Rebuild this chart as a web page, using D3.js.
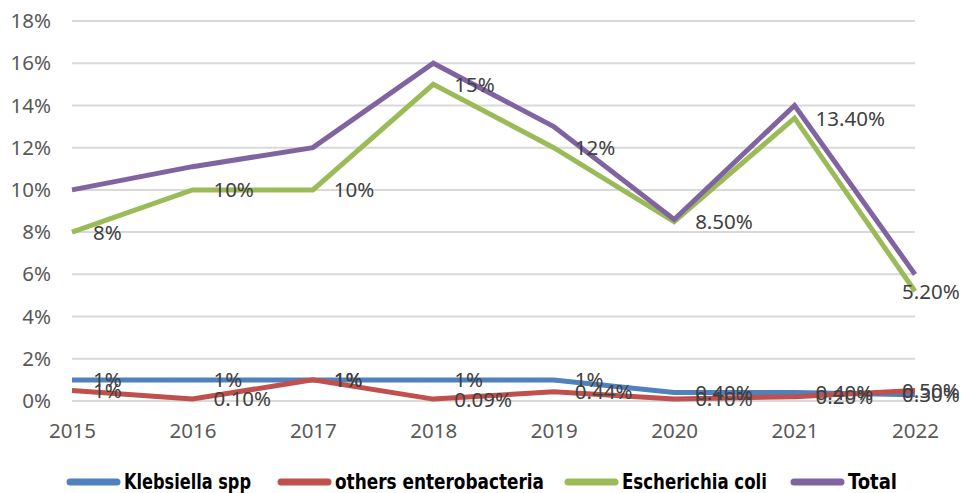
<!DOCTYPE html>
<html>
<head>
<meta charset="utf-8">
<script src="https://cdn.jsdelivr.net/npm/d3@7"></script>
<style>
  html, body { margin: 0; padding: 0; background: #fff; }
  svg { display: block; }
</style>
</head>
<body>
<svg id="chart" width="961" height="493"></svg>
<script>
// Years on the x axis
const years = ["2015", "2016", "2017", "2018", "2019", "2020", "2021", "2022"];

// Series values in percent
const klebsiella = [1, 1, 1, 1, 1, 0.4, 0.4, 0.3];
const othersEntero = [0.5, 0.1, 1, 0.09, 0.44, 0.1, 0.2, 0.5];
const eColi = [8, 10, 10, 15, 12, 8.5, 13.4, 5.2];
const total = [10, 11.1, 12, 16, 13, 8.6, 14, 6];

// Decimal places used by each point's data label
const klebsiellaDecimals = [0, 0, 0, 0, 0, 2, 2, 2];
const othersDecimals = [0, 2, 0, 2, 2, 2, 2, 2];
const eColiDecimals = [0, 0, 0, 0, 0, 2, 2, 2];

// Y axis ticks in percent
const yTicks = [0, 2, 4, 6, 8, 10, 12, 14, 16, 18];

const seriesNames = ["Klebsiella spp", "others enterobacteria", "Escherichia coli", "Total"];
const seriesColors = ["#4f81bd", "#c0504d", "#9bbb59", "#8064a2"];

const series = [
  { name: seriesNames[0], values: klebsiella, decimals: klebsiellaDecimals, color: seriesColors[0] },
  { name: seriesNames[1], values: othersEntero, decimals: othersDecimals, color: seriesColors[1] },
  { name: seriesNames[2], values: eColi, decimals: eColiDecimals, color: seriesColors[2] },
  { name: seriesNames[3], values: total, decimals: null, color: seriesColors[3] }
];

const svg = d3.select("#chart");
const plotLeft = 72, plotRight = 915, plotTop = 21, plotBottom = 401;

const x = d3.scalePoint().domain(years).range([plotLeft, plotRight]);
const y = d3.scaleLinear().domain([0, 18]).range([plotBottom, plotTop]);

const font = "'Noto Sans', 'Open Sans', sans-serif";
const fontSize = 20.5;

// Horizontal gridlines
svg.append("g")
  .selectAll("line")
  .data(yTicks)
  .join("line")
  .attr("x1", plotLeft).attr("x2", plotRight)
  .attr("y1", d => y(d)).attr("y2", d => y(d))
  .attr("stroke", "#d9d9d9")
  .attr("stroke-width", 2);

// Y axis labels
const yAxis = d3.axisLeft(y).tickValues(yTicks).tickSize(0).tickPadding(0)
  .tickFormat(d => d + "%");
svg.append("g")
  .attr("transform", "translate(51,0)")
  .call(yAxis)
  .call(g => g.select(".domain").remove())
  .call(g => g.selectAll("text")
    .attr("font-family", font).attr("font-size", fontSize).attr("fill", "#595959"));

// X axis labels
const xAxis = d3.axisBottom(x).tickSize(0).tickPadding(0);
svg.append("g")
  .attr("transform", "translate(0,423)")
  .call(xAxis)
  .call(g => g.select(".domain").remove())
  .call(g => g.selectAll("text")
    .attr("font-family", font).attr("font-size", fontSize).attr("fill", "#595959"));

// Series lines
const line = d3.line()
  .x((d, i) => x(years[i]))
  .y(d => y(d));

svg.append("g")
  .selectAll("path")
  .data(series)
  .join("path")
  .attr("d", s => line(s.values))
  .attr("fill", "none")
  .attr("stroke", s => s.color)
  .attr("stroke-width", 5)
  .attr("stroke-linejoin", "miter");

// Data labels to the right of each point; the last column is pulled
// back inside the chart edge
const labelLayer = svg.append("g");
series.filter(s => s.decimals).forEach(s => {
  labelLayer.append("g").selectAll("text")
    .data(s.values.map((v, i) => ({ v, i, dec: s.decimals[i] })))
    .join("text")
    .attr("x", d => d.i === years.length - 1 ? x(years[d.i]) - 13 : x(years[d.i]) + 21)
    .attr("y", d => y(d.v) + 2)
    .attr("dominant-baseline", "middle")
    .attr("font-family", font)
    .attr("font-size", fontSize)
    .attr("fill", "#404040")
    .text(d => d3.format("." + d.dec + "f")(d.v) + "%");
});

// Legend: swatch start and label width for each entry
const legendX = [66, 277, 564, 790];
const legendTextWidth = [127, 209, 145, 49];
const legend = svg.append("g").attr("transform", "translate(0,482)");
series.forEach((s, i) => {
  const gx = legendX[i];
  legend.append("line")
    .attr("x1", gx + 4).attr("x2", gx + 51)
    .attr("y1", 0).attr("y2", 0)
    .attr("stroke", s.color)
    .attr("stroke-width", 7)
    .attr("stroke-linecap", "round");
  legend.append("text")
    .attr("x", gx + 58)
    .attr("y", 1)
    .attr("dominant-baseline", "middle")
    .attr("font-family", "'DejaVu Sans Condensed', 'Liberation Sans', sans-serif")
    .attr("font-weight", "bold")
    .attr("font-size", 21)
    .attr("textLength", legendTextWidth[i])
    .attr("lengthAdjust", "spacingAndGlyphs")
    .attr("fill", "#000")
    .text(s.name);
});
</script>
</body>
</html>
